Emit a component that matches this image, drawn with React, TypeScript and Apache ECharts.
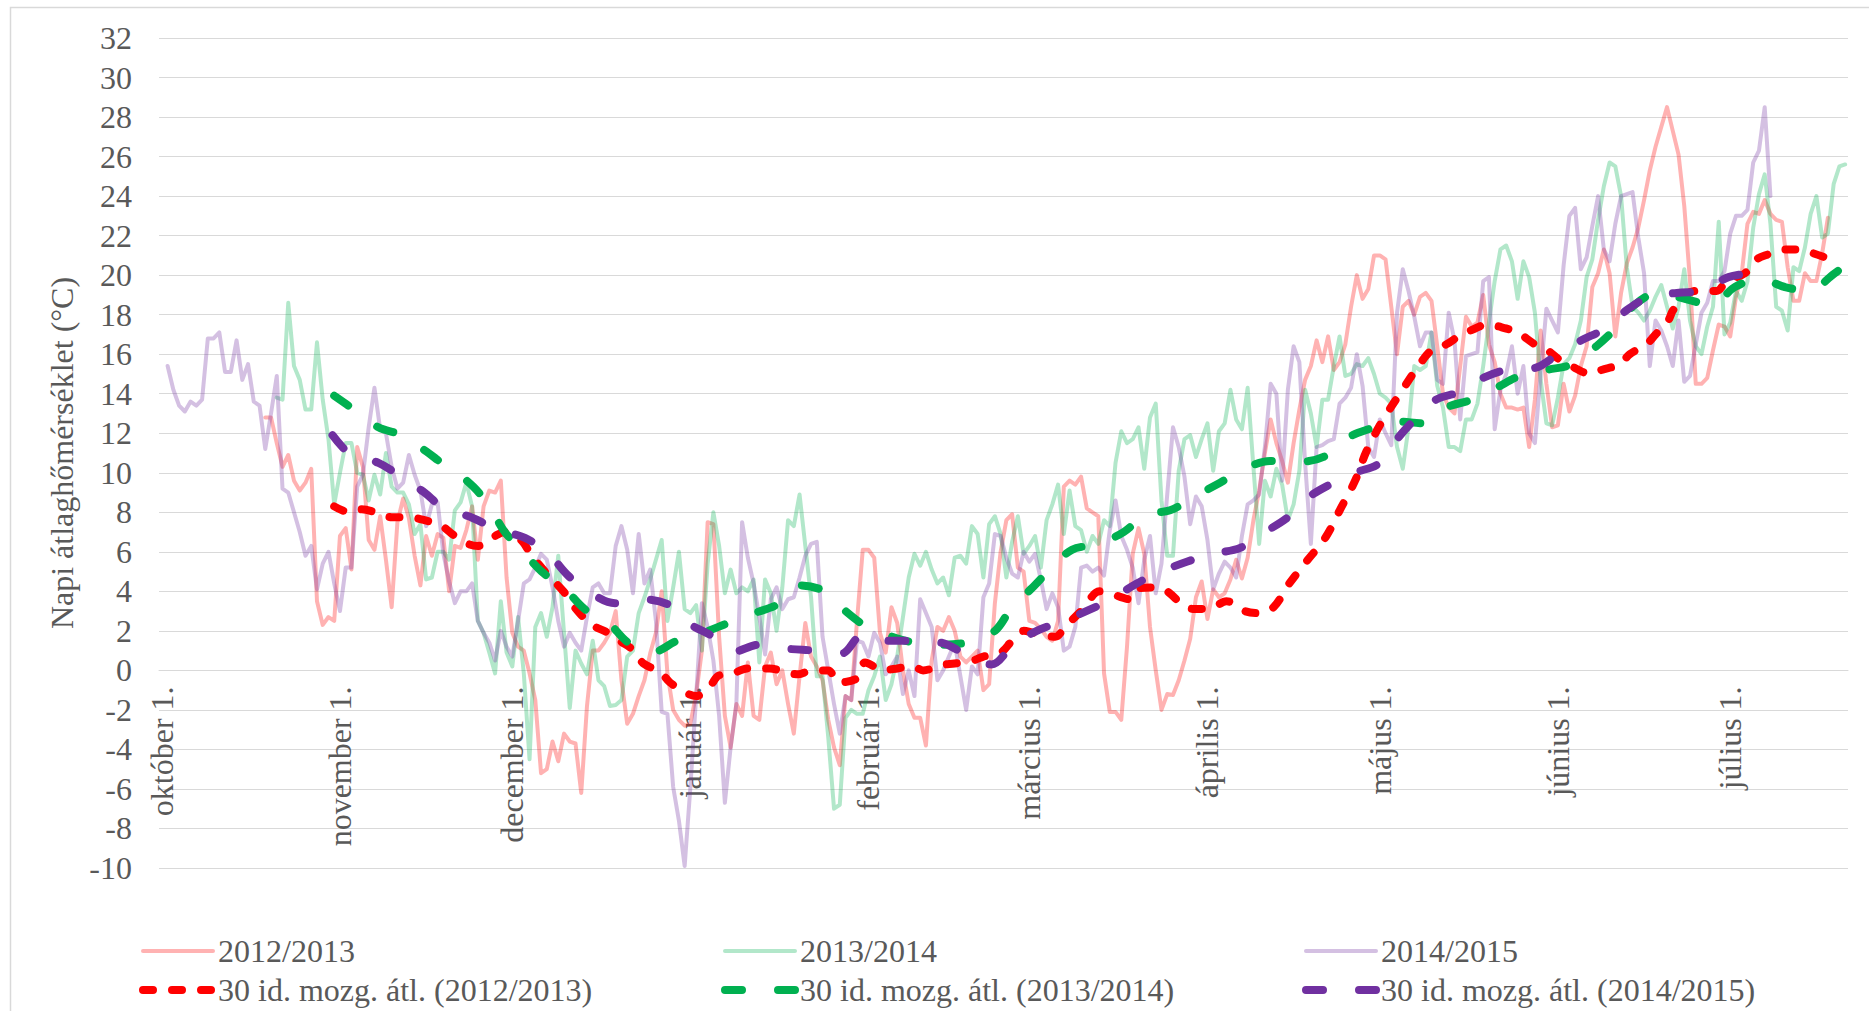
import React, { useEffect, useRef } from "react";
import * as echarts from "echarts";

// X axis: day index counted from október 1. (0) to július 21. (293)
const dayCount = 294;
const monthTicks = [0, 31, 61, 92, 123, 151, 182, 212, 243, 273];
const monthLabels = [
  "október 1.", "november 1.", "december 1.", "január 1.", "február 1.",
  "március 1.", "április 1.", "május 1.", "június 1.", "július 1.",
];

const seriesNames = ["2012/2013", "2013/2014", "2014/2015"];
const maNames = [
  "30 id. mozg. átl. (2012/2013)",
  "30 id. mozg. átl. (2013/2014)",
  "30 id. mozg. átl. (2014/2015)",
];

// Daily mean temperatures (°C), first value at day index start*
const start1213 = 18;
const daily1213 = [
  12.8, 12.8, 11.5, 10.3, 10.9, 9.6, 9.1, 9.5, 10.2, 3.5, 2.3, 2.7, 2.5,
  6.8, 7.2, 5.1, 11.3, 10.3, 6.6, 6.1, 7.8, 5.6, 3.2,
  7.5, 8.7, 7.7, 5.8, 4.3, 6.8, 5.8, 6.9, 6.7, 4.0,
  6.3, 6.2, 7.1, 8.3, 5.6, 8.3, 9.1, 9.0, 9.6, 4.7,
  1.9, 1.2, 1.0, -0.15, -1.5, -5.2, -5.0, -3.6, -4.6, -3.2,
  -3.6, -3.7, -6.2, -1.8, 1.0, 1.0, 1.4, 1.9, 3.0, -0.5,
  -2.7, -2.2, -1.3, -0.5, 0.86, 1.9, 4.0, -0.15, -2.0, -2.5,
  -2.8, -2.7, -1.2, 1.0, 7.5, 7.4, 1.7, -2.3, -3.9, -1.7,
  -2.3, 0.4, -2.3, -2.5, 0.2, 0.9, -0.7, 0.0, -1.7, -3.2,
  -0.3, 2.4, 0.7, 0.2, -0.5, -2.5, -3.9, -4.8, -1.3, -1.5,
  2.5, 6.1, 6.1, 5.7, 1.9, 0.9, 3.2, 2.4, 0.0, -1.7,
  -2.4, -2.4, -3.8, 0.5, 2.2, 2.0, 2.7, 2.0, 0.7, 0.4,
  0.7, 1.0, -1.0, -0.7, 3.4, 6.0, 7.6, 7.9, 5.2, 5.0,
  2.5, 2.4, 2.1, 1.7, 1.5, 2.5, 9.3, 9.6, 9.4, 9.8,
  8.2, 8.0, 7.8, -0.15, -2.1, -2.1, -2.5, 1.2, 5.9, 7.2,
  5.9, 2.2, 0.0, -2.0, -1.2, -1.25, -0.5, 0.5, 1.6, 3.7,
  4.5, 2.6, 4.1, 3.7, 3.9, 4.6, 5.6, 4.65, 5.7, 7.6,
  9.1, 11.0, 12.7, 11.5, 10.6, 9.5, 11.5, 13.2, 14.7, 15.4,
  16.7, 15.6, 16.9, 15.2, 15.6, 16.5, 18.4, 20.0, 18.8, 19.3,
  21.0, 21.0, 20.8, 18.4, 16.0, 18.4, 18.7, 18.0, 18.9, 19.1,
  18.7, 16.4, 14.0, 13.3, 13.0, 15.4, 17.9, 17.4, 17.6, 19.0,
  16.5, 15.6, 14.0, 13.3, 13.3, 13.2, 13.3, 11.3, 13.7, 17.2,
  14.5, 12.3, 12.4, 14.5, 13.1, 13.9, 15.4, 16.4, 19.4, 20.1,
  21.3, 20.1, 16.9, 19.1, 20.6, 21.4, 22.4, 23.8, 25.3, 26.5,
  27.5, 28.5, 27.3, 26.1, 23.5, 19.7, 14.5, 14.5, 14.8, 16.2,
  17.5, 17.4, 16.9, 18.9, 20.1, 22.6, 23.2, 23.1, 23.8, 23.1,
  22.8, 22.7, 20.4, 18.7, 18.7, 20.1, 19.7, 19.7, 21.1, 22.9,
];

const start1314 = 20;
const daily1314 = [
  13.8, 13.7, 18.6, 15.4, 14.7, 13.2, 13.2, 16.6, 13.7, 11.7, 8.4,
  10.0, 11.5, 11.5, 10.0, 9.9, 8.6, 9.9, 8.9, 11.0, 9.3,
  9.0, 9.0, 8.4, 6.9, 7.4, 4.6, 4.7, 6.0, 6.0, 5.6,
  8.1, 8.5, 9.5, 8.3, 2.5, 1.9, 0.9, -0.15, 3.5, 0.9,
  0.2, 2.7, -0.15, -4.5, 2.2, 2.9, 1.7, 3.2, 5.8, 1.9,
  -1.9, 1.0, 0.35, -0.2, 1.5, -0.5, -0.8, -1.8, -1.75, -1.5,
  0.7, 1.0, 2.9, 3.7, 4.6, 5.6, 6.6, 2.5, 4.2, 6.0,
  3.1, 2.9, 3.3, 1.0, 5.4, 8.0, 6.3, 3.9, 5.1, 3.9,
  4.2, 4.0, 4.6, 0.4, 4.6, 3.9, 2.0, 4.2, 7.6, 7.3,
  8.9, 6.3, 3.7, -0.3, -0.3, -3.4, -7.0, -6.8, -2.4, -2.0,
  -2.2, -2.2, -1.0, -0.3, 0.7, -1.5, -0.7, 0.7, 2.7, 4.7,
  5.9, 5.3, 6.0, 5.1, 4.4, 4.7, 3.8, 5.7, 5.8, 5.4,
  7.3, 6.9, 4.7, 7.4, 7.8, 6.9, 4.7, 6.5, 7.8, 5.9,
  6.3, 6.8, 5.2, 7.6, 8.4, 9.4, 6.9, 9.1, 7.3, 7.1,
  6.0, 6.8, 6.4, 7.6, 7.3, 10.5, 12.1, 11.5, 11.7, 12.3,
  10.2, 12.8, 13.5, 8.6, 5.8, 5.8, 10.1, 11.7, 11.9, 10.8,
  11.7, 12.5, 10.1, 12.1, 12.5, 14.2, 12.7, 12.2, 14.3, 10.3,
  6.4, 9.6, 8.8, 10.2, 9.4, 7.6, 8.4, 10.1, 14.2, 13.0,
  11.3, 13.7, 13.7, 15.4, 16.9, 14.9, 15.0, 15.5, 15.4, 15.8,
  15.0, 14.0, 13.8, 13.5, 11.3, 10.2, 12.3, 15.4, 15.2, 15.4,
  17.1, 14.4, 13.3, 11.3, 11.3, 11.1, 12.7, 12.7, 13.5, 15.4,
  17.6, 19.7, 21.3, 21.5, 20.7, 18.8, 20.7, 19.9, 18.1, 14.7,
  12.5, 12.4, 13.8, 15.5, 15.8, 16.5, 17.7, 19.9, 20.8, 22.8,
  24.5, 25.7, 25.5, 24.0, 20.4, 18.4, 18.1, 17.7, 18.2, 18.9,
  19.5, 18.4, 17.3, 18.4, 20.3, 17.7, 16.4, 16.0, 17.4, 18.4,
  22.7, 17.0, 17.6, 19.2, 18.7, 19.7, 22.4, 24.1, 25.1, 22.6,
  18.4, 18.2, 17.2, 20.4, 20.2, 21.4, 23.1, 24.0, 21.9, 22.1,
  24.6, 25.5, 25.6,
];

const start1415 = 1;
const daily1415 = [
  15.4, 14.2, 13.4, 13.1, 13.6, 13.4, 13.7, 16.8, 16.8, 17.1,
  15.1, 15.1, 16.7, 14.7, 15.5, 13.6, 13.4, 11.2, 13.0, 14.9,
  9.2, 9.0, 8.0, 7.0, 5.8, 6.3, 4.1, 5.4, 6.0, 4.4,
  3.0, 5.2, 5.2, 9.3, 9.9, 12.3, 14.3, 12.2, 12.0, 10.3,
  9.2, 9.5, 10.9, 9.9, 9.1, 7.3, 8.4, 8.5, 5.9, 4.5,
  3.4, 4.0, 4.0, 4.4, 2.5, 1.9, 1.4, 0.5, 2.0, 1.2,
  0.7, 2.5, 4.4, 4.6, 5.2, 5.9, 5.6, 4.2, 2.5, 1.2,
  1.9, 1.4, 1.0, 2.7, 4.2, 4.4, 3.9, 3.9, 6.3, 7.3,
  6.1, 3.9, 6.9, 4.4, 5.1, 2.5, -2.1, -2.2, -5.9, -7.6,
  -9.9, -5.9, -1.3, 3.4, 2.2, 0.5, -2.3, -6.7, -3.9, -1.7,
  7.5, 5.7, 4.4, 2.7, 0.8, 3.6, 4.2, 3.1, 3.6, 3.7,
  4.7, 5.8, 6.4, 6.5, 1.7, 0.0, -1.7, -3.2, -1.3, -1.5,
  1.5, 1.4, 0.7, 1.9, 1.4, -0.2, 0.2, 0.7, -1.2, 0.0,
  -1.3, 3.6, 2.9, 2.2, -0.5, 0.0, 0.7, 1.4, -0.3, -2.0,
  0.2, -0.2, 3.7, 4.4, 6.9, 6.8, 5.7, 4.9, 4.7, 6.0,
  5.5, 5.9, 4.6, 3.1, 3.9, 3.2, 1.0, 1.2, 2.2, 5.2,
  5.3, 5.0, 5.2, 4.8, 7.1, 8.6, 6.8, 6.1, 5.2, 3.4,
  5.6, 6.8, 3.9, 5.4, 8.9, 12.3, 11.3, 9.8, 7.4, 8.8,
  8.3, 6.6, 4.1, 4.9, 5.5, 5.2, 4.7, 6.8, 8.4, 8.6,
  8.9, 11.3, 14.5, 14.0, 9.6, 14.2, 16.4, 15.6, 10.5, 6.4,
  11.3, 11.4, 11.6, 11.7, 13.5, 13.8, 14.3, 16.0, 14.4, 11.3,
  10.8, 12.7, 12.0, 11.4, 18.1, 20.3, 19.2, 17.9, 16.4, 17.1,
  17.1, 14.7, 14.5, 18.1, 16.7, 12.7, 15.9, 16.0, 16.1, 19.7,
  19.9, 12.2, 14.2, 15.0, 16.4, 14.0, 15.4, 12.0, 11.5, 15.0,
  18.3, 17.7, 17.1, 20.5, 23.0, 23.4, 20.3, 20.9, 22.5, 24.0,
  21.3, 20.7, 22.6, 24.0, 24.1, 24.2, 21.9, 20.1, 15.4, 17.7,
  17.2, 16.4, 15.4, 17.7, 14.6, 14.9, 16.5, 18.1, 18.6, 19.7,
  19.7, 20.2, 22.1, 23.0, 23.0, 23.3, 25.7, 26.3, 28.5, 24.0,
];

// 30-day moving averages, read as [day index, °C]
const ma1213: [number, number][] = [
  [30, 8.3], [32.7, 8.0], [34.7, 8.15], [37.8, 7.95], [40, 7.75], [43, 7.75], [45.7, 7.6],
  [48.7, 7.3], [51, 6.8], [53.3, 6.4], [55, 6.3], [58, 6.8], [59.7, 7.0], [62.5, 6.6],
  [64.4, 5.8], [67, 4.9], [69.9, 4.0], [71.3, 3.4], [73, 2.8], [74.8, 2.3], [77.7, 1.9],
  [79.7, 1.5], [82.4, 0.95], [83.8, 0.35], [86.7, -0.07], [88.4, -0.6], [91, -1.1],
  [93, -1.3], [95.4, -0.8], [97, -0.25], [99, -0.2], [102, 0.1], [105.8, 0.1], [107.6, 0],
  [110.8, -0.2], [113, 0], [116, 0], [117.7, -0.6], [121, -0.4], [122.4, 0.4], [125.6, 0],
  [127.3, 0.07], [130.8, 0.2], [132.5, 0], [135.7, 0.27], [138, 0.35], [141.2, 0.5],
  [143, 0.7], [146, 0.9], [148, 1.5], [150, 2.0], [151.7, 1.9], [155.5, 1.7], [157.2, 2.2],
  [160, 3.0], [163.3, 4.0], [165, 3.9], [168.5, 3.6], [170, 4.15], [173.2, 4.2], [175, 4.0],
  [177.8, 3.3], [179.8, 3.1], [183, 3.2], [185.3, 3.5], [188.5, 3.0], [190.6, 2.9],
  [193.5, 3.2], [196, 4.3], [199.2, 5.5], [202.6, 6.75], [205.2, 8.2], [207.7, 9.6],
  [209.7, 11.1], [212.4, 12.6], [215.5, 14.0], [218.5, 15.3], [221, 16.2], [223.6, 16.5],
  [225.7, 16.9], [228.6, 17.3], [230.6, 17.5], [234, 17.3], [236, 17.1], [239, 16.5],
  [240.7, 16.3], [243.4, 15.7], [246, 15.3], [248.6, 15.0], [250.6, 15.2], [253.8, 15.5],
  [255.5, 16.0], [258.4, 16.5], [260, 17.0], [262.2, 17.7], [263, 18.2], [264.8, 18.9],
  [267, 19.2], [270.6, 19.2], [272.4, 19.7], [275.6, 20.1], [277, 20.7], [280, 21.1],
  [282, 21.3], [285, 21.3], [287.5, 21.1], [290.4, 20.8],
];

const ma1314: [number, number][] = [
  [30, 13.9], [33.4, 13.2], [37.7, 12.3], [41.7, 11.9], [46.4, 11.0], [48.7, 10.5],
  [50, 10.3], [54.2, 9.3], [57, 8.3], [59.7, 7.0], [62.6, 6.1], [66.1, 5.0], [69.9, 4.2],
  [73.6, 3.1], [77.4, 2.5], [81.2, 1.4], [85.2, 0.9], [89.7, 1.5], [94.2, 1.9], [98.6, 2.4],
  [103.2, 2.9], [107.6, 3.4], [111, 4.3], [115.4, 4.0], [118.6, 3.1], [122.7, 2.2],
  [126.1, 1.8], [131, 1.4], [135.7, 1.3], [140.7, 1.45], [145, 2.0], [148, 3.2],
  [151.4, 4.15], [154.9, 5.2], [158.4, 6.1], [163, 6.4], [167.4, 7.0], [171.4, 7.9],
  [175.5, 8.1], [179.8, 8.8], [184.2, 9.5], [188.5, 10.2], [192.9, 10.6], [197.5, 10.55],
  [202.2, 10.8], [205.9, 11.7], [210, 12.2], [215, 12.6], [219.6, 12.5], [223.6, 13.3],
  [228, 13.7], [232.3, 14.3], [236.4, 14.9], [241, 15.2], [245.5, 15.5], [249.7, 16.4],
  [253, 17.3], [256.4, 18.5], [260.5, 19.1], [265.1, 18.8], [269.8, 18.5], [273.8, 19.4],
  [278.2, 19.8], [282.5, 19.4], [286.6, 19.2], [291.2, 20.1], [293.5, 20.6],
];

const ma1415: [number, number][] = [
  [29.7, 11.9], [33, 10.9], [37.7, 10.5], [41.6, 9.8], [45.7, 9.0], [48.7, 8.3],
  [54.2, 7.7], [58.6, 7.1], [63.2, 6.7], [67.3, 5.9], [70.7, 4.8], [74.2, 4.0],
  [78.9, 3.4], [83.5, 3.6], [88.4, 3.3], [91.6, 2.4], [96, 1.7], [99.5, 0.95],
  [104, 1.3], [108.7, 1.1], [113.7, 1.0], [118.3, 0.86], [122, 1.8], [126.7, 1.5],
  [130.8, 1.5], [135.7, 1.4], [140, 0.8], [144.4, 0.3], [148.2, 1.3], [152.3, 2.0],
  [156.9, 2.5], [161.3, 3.05], [165.3, 3.6], [169.7, 4.4], [174, 5.0], [178.4, 5.5],
  [183, 5.9], [187.7, 6.2], [192, 7.0], [195.8, 7.7], [199.3, 8.7], [203.3, 9.4],
  [207.7, 10.0], [212, 10.5], [215, 11.7], [218.1, 12.7], [221.8, 13.7], [226, 14.1],
  [230, 14.8], [234, 15.2], [239, 15.3], [243, 16.0], [247.1, 16.7], [251.2, 17.3],
  [255.3, 18.3], [259, 18.9], [263.7, 19.1], [268.3, 19.2], [272.7, 19.9], [277.3, 20.1],
];

const colors = ["#FF0000", "#00B050", "#7030A0"];
const FONT = "'Liberation Serif', 'Times New Roman', serif";
const TEXT = "#595959";
const GRID = "#D9D9D9";

const toPairs = (start: number, vals: number[]) => vals.map((v, k) => [start + k, v]);

export default function App() {
  const ref = useRef<HTMLDivElement>(null);

  useEffect(() => {
    if (!ref.current) return;
    const chart = echarts.init(ref.current, undefined, { renderer: "svg" });

    const gridTop = 38;
    const gridBottomPx = 868;
    const yMin = -10;
    const yMax = 32;
    // distance from plot bottom up to the 0 line, so the month labels sit under 0
    const zeroOffset = -((0 - yMin) / (yMax - yMin)) * (gridBottomPx - gridTop);

    const dailySets = [
      toPairs(start1213, daily1213),
      toPairs(start1314, daily1314),
      toPairs(start1415, daily1415),
    ];
    const maSets = [ma1213, ma1314, ma1415];
    const maDash = [[10, 19], [17, 36], [17, 36]];

    const dailySeries = dailySets.map((d, k) => ({
      name: seriesNames[k],
      type: "line",
      data: d,
      symbol: "none",
      showSymbol: false,
      z: 2,
      itemStyle: { color: colors[k] },
      lineStyle: { color: colors[k], width: 4, opacity: 0.3, join: "round", cap: "round" },
    }));
    const maSeries = maSets.map((d, k) => ({
      name: maNames[k],
      type: "line",
      data: d,
      symbol: "none",
      showSymbol: false,
      smooth: 0.35,
      z: 3,
      itemStyle: { color: colors[k] },
      lineStyle: { color: colors[k], width: 8, type: maDash[k], cap: "round", join: "round" },
    }));

    const legendCols = [139, 721, 1302];
    const legends = legendCols.map((left, k) => ({
      orient: "vertical",
      left,
      top: 935,
      padding: 0,
      itemWidth: 70,
      itemHeight: 2,
      itemGap: 7,
      selectedMode: false,
      textStyle: { fontFamily: FONT, fontSize: 32, lineHeight: 32, color: TEXT },
      data: [
        { name: seriesNames[k], lineStyle: { width: 4 }, itemStyle: { opacity: 0, borderWidth: 0 } },
        { name: maNames[k], lineStyle: { width: 8 }, itemStyle: { opacity: 0, borderWidth: 0 } },
      ],
    }));

    chart.setOption({
      animation: false,
      backgroundColor: "#FFFFFF",
      textStyle: { fontFamily: FONT },
      grid: {
        left: 159,
        right: 21,
        top: gridTop,
        bottom: 1011 - gridBottomPx,
        containLabel: false,
        outerBoundsMode: "none",
      },
      graphic: [
        {
          type: "rect",
          silent: true,
          z: -10,
          shape: { x: 10.5, y: 7.5, width: 1900, height: 1100 },
          style: { fill: "none", stroke: GRID, lineWidth: 1.5 },
        },
      ],
      legend: legends,
      xAxis: {
        type: "value",
        min: -0.5,
        max: dayCount - 0.5,
        offset: zeroOffset,
        splitLine: { show: false },
        axisTick: { show: false },
        axisLine: { show: true, onZero: false, lineStyle: { color: GRID, width: 1 } },
        axisLabel: {
          customValues: monthTicks,
          formatter: (v: number) => {
            const idx = monthTicks.indexOf(Math.round(v));
            return idx >= 0 ? monthLabels[idx] : "";
          },
          rotate: 90,
          margin: 16,
          fontFamily: FONT,
          fontSize: 32,
          color: TEXT,
        },
      },
      yAxis: {
        type: "value",
        min: yMin,
        max: yMax,
        interval: 2,
        name: "Napi átlaghőmérséklet (°C)",
        nameLocation: "middle",
        nameGap: 75,
        nameTextStyle: { fontFamily: FONT, fontSize: 32, color: TEXT },
        axisLine: { show: false, onZero: false },
        axisTick: { show: false },
        axisLabel: { fontFamily: FONT, fontSize: 32, color: TEXT, margin: 27 },
        splitLine: { lineStyle: { color: GRID, width: 1 } },
      },
      series: [...dailySeries, ...maSeries],
    });

    return () => chart.dispose();
  }, []);

  return (
    <div
      ref={ref}
      style={{ position: "fixed", left: 0, top: 0, width: 1869, height: 1011, background: "#fff" }}
    />
  );
}
